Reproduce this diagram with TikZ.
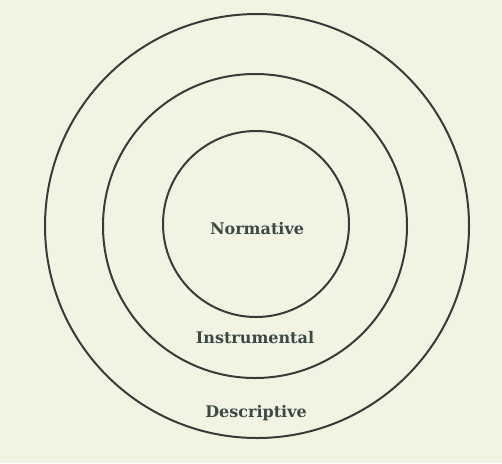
\documentclass[tikz,border=0pt]{standalone}
\usepackage{fontspec}
\setmainfont{DejaVu Serif}
\definecolor{paper}{HTML}{F3F3E4}
\definecolor{ink}{HTML}{3A3A3A}
\definecolor{txt}{HTML}{3C4A44}
\begin{document}
\begin{tikzpicture}[x=1pt,y=-1pt,
  ring/.style={draw=ink,line width=2pt},
  lbl/.style={text=txt,font=\fontsize{16}{18}\selectfont\bfseries,inner sep=0pt}]
\fill[paper] (0,0) rectangle (502,463);
\useasboundingbox (0,0) rectangle (502,463);
\node[ring,circle,minimum size=424pt,inner sep=0pt] (outer) at (257,226) {};
\node[ring,circle,minimum size=304pt,inner sep=0pt] (middle) at (255,226) {};
\node[ring,circle,minimum size=186pt,inner sep=0pt] (inner) at (256,224) {};
\node[lbl] (norm) at (257,229) {Normative};
\node[lbl] (instr) at (255,338) {Instrumental};
\node[lbl] (descr) at (256,413) {Descriptive};
\end{tikzpicture}
\end{document}
